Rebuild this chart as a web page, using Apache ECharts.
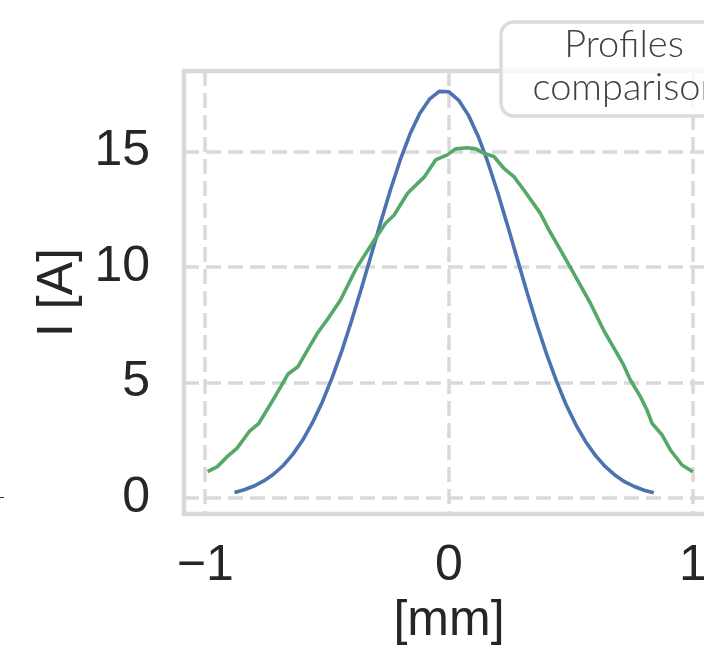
<!DOCTYPE html>
<html>
<head>
<meta charset="UTF-8">
<title>Profiles comparison</title>
<style>
html, body { margin: 0; padding: 0; background: #ffffff; }
#chart { width: 704px; height: 651px; }
</style>
</head>
<body>
<div id="chart"></div>
<script src="https://cdn.jsdelivr.net/npm/echarts@6/dist/echarts.min.js"></script>
<script type="text/javascript">
// tick values
var xTicks = [-1, 0, 1];
var yTicks = [0, 5, 10, 15];

// blue profile, position [mm] / current [A]
var blueX = [-0.88, -0.84, -0.80, -0.76, -0.72, -0.68, -0.64, -0.60, -0.56, -0.52, -0.48, -0.44,
	-0.40, -0.36, -0.32, -0.28, -0.24, -0.20, -0.16, -0.12, -0.08, -0.04, 0.00, 0.04, 0.08, 0.12,
	0.16, 0.20, 0.24, 0.28, 0.32, 0.36, 0.40, 0.44, 0.48, 0.52, 0.56, 0.60, 0.64, 0.68, 0.72,
	0.76, 0.80, 0.84];
var blueY = [0.24, 0.36, 0.52, 0.74, 1.03, 1.41, 1.90, 2.51, 3.26, 4.15, 5.19, 6.36,
	7.66, 9.05, 10.49, 11.94, 13.34, 14.63, 15.75, 16.64, 17.26, 17.60, 17.58, 17.21, 16.56, 15.65,
	14.51, 13.21, 11.80, 10.35, 8.91, 7.52, 6.24, 5.08, 4.05, 3.18, 2.45, 1.85, 1.37, 1.00, 0.71,
	0.50, 0.34, 0.23];

// green profile
var greenX = [-0.99, -0.95, -0.91, -0.87, -0.82, -0.78, -0.73, -0.69, -0.66, -0.62, -0.58, -0.54,
	-0.50, -0.445, -0.38, -0.31, -0.26, -0.225, -0.17, -0.10, -0.055, -0.007, 0.027, 0.075, 0.11,
	0.143, 0.184, 0.225, 0.266, 0.307, 0.375, 0.41, 0.457, 0.511, 0.58, 0.634, 0.689, 0.716,
	0.744, 0.785, 0.812, 0.833, 0.874, 0.908, 0.956, 1.00];
var greenY = [1.14, 1.36, 1.79, 2.15, 2.87, 3.23, 4.10, 4.82, 5.37, 5.68, 6.41, 7.13,
	7.71, 8.57, 9.95, 11.10, 11.89, 12.25, 13.19, 13.91, 14.63, 14.85, 15.11, 15.16, 15.11,
	14.92, 14.78, 14.27, 13.91, 13.33, 12.32, 11.60, 10.74, 9.73, 8.43, 7.27, 6.26, 5.76,
	5.11, 4.39, 3.81, 3.23, 2.73, 2.08, 1.43, 1.14];

function pairs(xs, ys) {
	var out = [];
	for (var i = 0; i < xs.length; i++) {
		out.push([xs[i], ys[i]]);
	}
	return out;
}

var myChart = echarts.init(document.getElementById("chart"), null, { renderer: 'canvas' });

var gridColor = '#d9d9d9';
var textColor = '#262626';
var font = '"Liberation Sans", Arial, sans-serif';

var option = {
	animation: false,
	backgroundColor: '#ffffff',
	grid: {
		left: 184,
		top: 71,
		width: 530,
		height: 443,
		outerBoundsMode: 'none',
		containLabel: false,
		show: true,
		borderColor: gridColor,
		borderWidth: 4.5,
		backgroundColor: 'transparent'
	},
	xAxis: {
		type: 'value',
		min: -1.087,
		max: 1.087,
		name: '[mm]',
		nameLocation: 'middle',
		nameGap: 80,
		nameTextStyle: { color: textColor, fontSize: 50, fontFamily: font },
		axisLine: { show: false },
		axisTick: { show: false, customValues: xTicks },
		axisLabel: {
			customValues: xTicks,
			margin: 27,
			color: textColor,
			fontSize: 50,
			fontFamily: font,
			formatter: function (v) {
				return v < 0 ? '\u2212' + Math.abs(v) : String(v);
			}
		},
		splitLine: {
			show: true,
			lineStyle: { color: gridColor, width: 3.5, type: [15, 7] }
		}
	},
	yAxis: {
		type: 'value',
		min: -0.69,
		max: 18.48,
		name: 'I [A]',
		nameLocation: 'middle',
		nameGap: 98,
		nameTextStyle: { color: textColor, fontSize: 50, fontFamily: font },
		axisLine: { show: false },
		axisTick: { show: false, customValues: yTicks },
		axisLabel: {
			customValues: yTicks,
			margin: 34,
			color: textColor,
			fontSize: 50,
			fontFamily: font
		},
		splitLine: {
			show: true,
			lineStyle: { color: gridColor, width: 3.5, type: [15, 7] }
		}
	},
	series: [{
		name: 'blue',
		type: 'line',
		showSymbol: false,
		clip: false,
		lineStyle: { color: '#4c72b0', width: 3.6 },
		data: pairs(blueX, blueY)
	}, {
		name: 'green',
		type: 'line',
		showSymbol: false,
		clip: false,
		lineStyle: { color: '#55a868', width: 3.6 },
		data: pairs(greenX, greenY)
	}],
	graphic: [{
		// legend box (cut off at the right)
		type: 'rect',
		shape: { x: 501, y: 22, width: 240, height: 94, r: 13 },
		style: { fill: 'rgba(255,255,255,0.8)', stroke: '#dcdcdc', lineWidth: 3.5 },
		z: 100
	}, {
		type: 'text',
		style: {
			x: 624, y: 45, text: 'Profiles', align: 'center', verticalAlign: 'middle',
			fill: '#404040', font: '300 38px Lato, sans-serif'
		},
		z: 101
	}, {
		type: 'text',
		style: {
			x: 627, y: 88, text: 'comparison', align: 'center', verticalAlign: 'middle',
			fill: '#404040', font: '300 38px Lato, sans-serif'
		},
		z: 101
	}, {
		// small stray tick at the left edge
		type: 'line',
		shape: { x1: 0, y1: 497.5, x2: 4, y2: 497.5 },
		style: { stroke: '#333333', lineWidth: 1 }
	}]
};
myChart.setOption(option);
</script>
</body>
</html>
